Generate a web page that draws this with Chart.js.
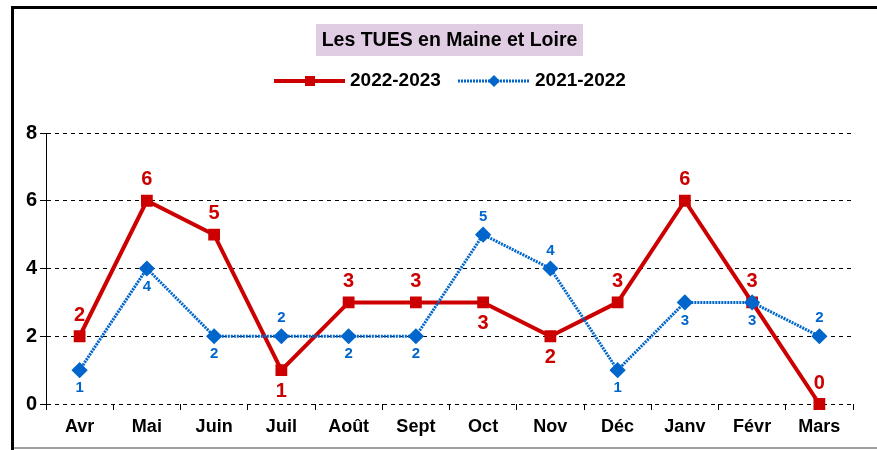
<!DOCTYPE html>
<html><head><meta charset="utf-8">
<script src="https://cdn.jsdelivr.net/npm/chart.js@4/dist/chart.umd.min.js"></script>
<style>html,body{margin:0;padding:0;background:#fff}#wrap{width:877px;height:450px;position:relative}</style>
</head><body><div id="wrap"><canvas id="c" width="877" height="450"></canvas></div>
<script>
const months = ["Avr","Mai","Juin","Juil","Août","Sept","Oct","Nov","Déc","Janv","Févr","Mars"];
const s2022_2023 = [2,6,5,1,3,3,3,2,3,6,3,0];
const s2021_2022 = [1,4,2,2,2,2,5,4,1,3,3,2];
const labelPos2022 = ["a","a","a","b","a","a","b","b","a","a","a","a"];
const labelPos2021 = ["b","b","b","a","b","b","a","a","b","b","b","a"];
const titleText = "Les TUES en Maine et Loire";
const RED = "#cc0000", BLUE = "#0066cc";
const FONT = "'Liberation Sans', Arial, sans-serif";

const decor = {
  id: 'decor',
  beforeDraw(chart){
    const ctx = chart.ctx;
    ctx.save();
    ctx.fillStyle = '#fff'; ctx.fillRect(0,0,877,450);
    ctx.fillStyle = '#000';
    ctx.fillRect(11,6,866,3);
    ctx.fillRect(11,6,3,444);
    ctx.fillStyle = '#a0a0a0';
    ctx.fillRect(14,447,863,2);
    ctx.fillStyle = '#e0cce3';
    ctx.fillRect(316,24,267,32);
    ctx.fillStyle = '#000';
    ctx.font = "bold 19.5px " + FONT;
    ctx.textAlign = 'center'; ctx.textBaseline = 'middle';
    ctx.fillText(titleText, 449.5, 41);
    ctx.textAlign = 'left';
    ctx.font = "bold 19px " + FONT;
    ctx.strokeStyle = RED; ctx.lineWidth = 4;
    ctx.beginPath(); ctx.moveTo(274,81); ctx.lineTo(345,81); ctx.stroke();
    ctx.fillStyle = RED; ctx.fillRect(305,76,10,10);
    ctx.fillStyle = '#000'; ctx.fillText(chart.data.datasets[0].label, 350, 81);
    ctx.strokeStyle = BLUE; ctx.lineWidth = 3; ctx.setLineDash([2,1]);
    ctx.beginPath(); ctx.moveTo(458,81); ctx.lineTo(530,81); ctx.stroke();
    ctx.setLineDash([]);
    ctx.fillStyle = BLUE;
    ctx.beginPath(); ctx.moveTo(494,75); ctx.lineTo(500,81); ctx.lineTo(494,87); ctx.lineTo(488,81); ctx.closePath(); ctx.fill();
    ctx.fillStyle = '#000'; ctx.fillText(chart.data.datasets[1].label, 535, 81);
    ctx.restore();
  },
  afterDatasetsDraw(chart){
    const ctx = chart.ctx;
    ctx.save();
    ctx.textAlign = 'center'; ctx.textBaseline = 'middle';
    const cfg = [
      {pos: labelPos2022, color: RED, font: "bold 20px " + FONT, off: 21},
      {pos: labelPos2021, color: BLUE, font: "bold 15px " + FONT, off: 18}
    ];
    chart.data.datasets.forEach((ds, di) => {
      const meta = chart.getDatasetMeta(di);
      const c = cfg[di];
      ctx.fillStyle = c.color; ctx.font = c.font;
      meta.data.forEach((pt, i) => {
        const dy = c.pos[i] === 'a' ? -c.off : c.off;
        ctx.fillText(String(ds.data[i]), pt.x, pt.y + dy);
      });
    });
    ctx.restore();
  }
};

new Chart(document.getElementById('c'), {
  type: 'line',
  data: {
    labels: months,
    datasets: [
      {label: '2022-2023', data: s2022_2023, borderColor: RED, backgroundColor: RED,
       borderWidth: 4, pointStyle: 'rect', pointRadius: 5.5, pointHoverRadius: 5.5, tension: 0, order: 2, clip: false},
      {label: '2021-2022', data: s2021_2022, borderColor: BLUE, backgroundColor: BLUE,
       borderWidth: 3, borderDash: [2,1], pointStyle: 'rectRot', pointRadius: 6, pointHoverRadius: 6, tension: 0, order: 1, clip: false}
    ]
  },
  options: {
    responsive: false, animation: false,
    layout: {padding: {top: 133, right: 24, left: 0, bottom: 0}},
    plugins: {legend: {display: false}, title: {display: false}, tooltip: {enabled: false}},
    scales: {
      x: {
        offset: true,
        grid: {display: true, offset: true, drawOnChartArea: false, drawTicks: true, tickLength: 6, color: '#000', lineWidth: 1},
        border: {display: false},
        ticks: {color: '#000', font: {family: FONT, size: 18, weight: 'bold'}, padding: 6, maxRotation: 0, autoSkip: false},
        afterFit(s){ s.height = 46; }
      },
      y: {
        min: 0, max: 8,
        ticks: {stepSize: 2, color: '#000', font: {family: FONT, size: 20, weight: 'bold'}, padding: 3},
        grid: {color: '#000', lineWidth: 1, tickLength: 6, tickBorderDash: [], drawTicks: true},
        border: {display: true, color: '#000', width: 1, dash: [4,4]},
        afterFit(s){ s.width = 46; }
      }
    }
  },
  plugins: [decor]
});
</script></body></html>
